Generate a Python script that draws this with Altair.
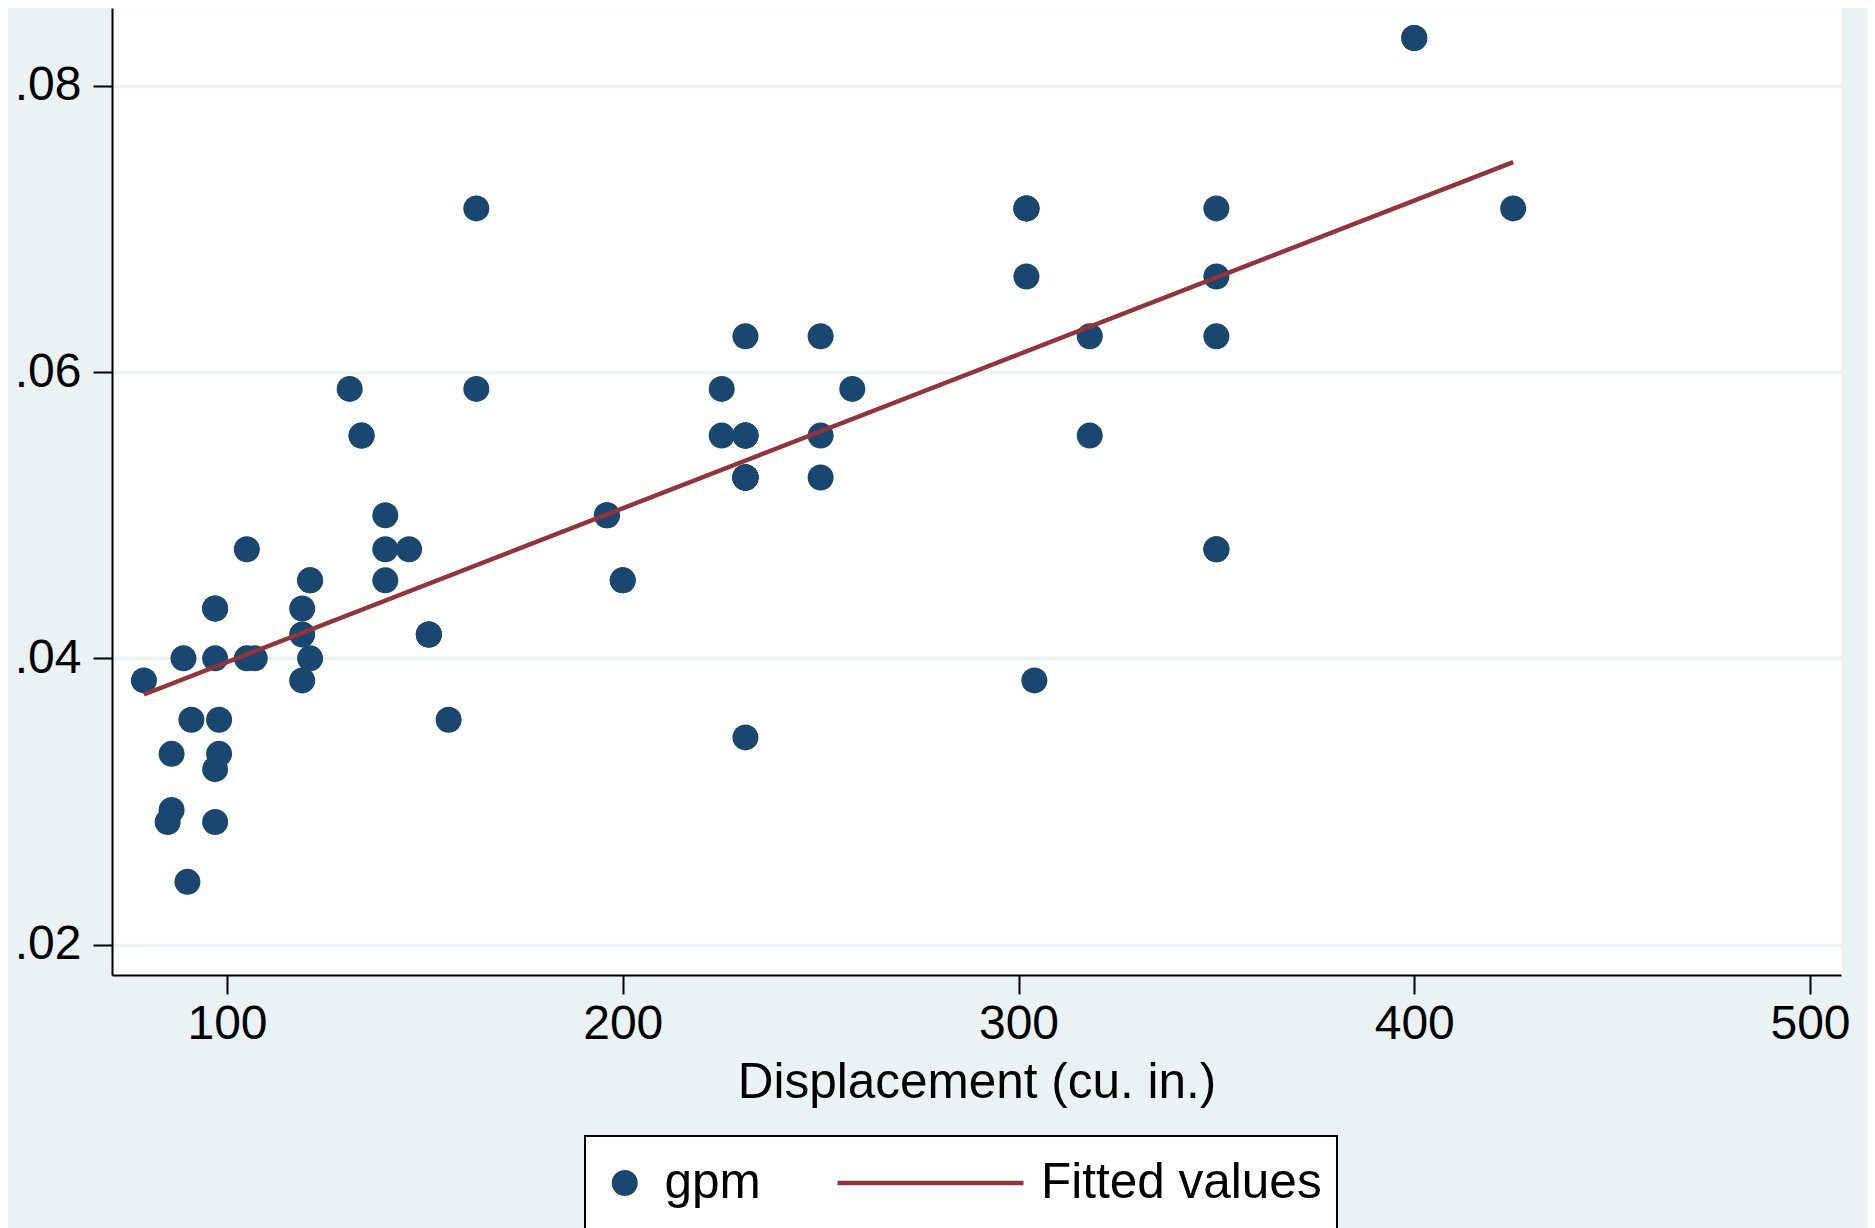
import altair as alt
import pandas as pd

# Stata auto data: displacement (cu. in.) and gallons per mile (1/mpg)
displacement = [121, 258, 121, 196, 350, 231, 304, 196, 231, 231,
                425, 350, 350, 231, 250, 200, 200, 151, 250, 98,
                318, 318, 225, 98, 140, 400, 400, 302, 140, 302,
                302, 250, 302, 140, 350, 231, 231, 231, 231, 151,
                350, 156, 86, 105, 119, 225, 231, 231, 231, 231,
                231, 151, 131, 97, 121, 119, 85, 119, 146, 105,
                107, 91, 86, 163, 79, 97, 134, 97, 134, 97,
                90, 89, 97, 163]
gpm = [0.04545, 0.05882, 0.04545, 0.05, 0.06667, 0.05556, 0.03846, 0.05, 0.0625, 0.05263,
       0.07143, 0.07143, 0.04762, 0.03448, 0.0625, 0.04545, 0.04545, 0.04167, 0.05263, 0.03333,
       0.05556, 0.0625, 0.05882, 0.03571, 0.04762, 0.08333, 0.08333, 0.07143, 0.04545, 0.07143,
       0.06667, 0.05556, 0.07143, 0.05, 0.04762, 0.05263, 0.05263, 0.05556, 0.05263, 0.04167,
       0.0625, 0.03571, 0.02941, 0.04, 0.03846, 0.05556, 0.05556, 0.05556, 0.05263, 0.05263,
       0.05263, 0.04167, 0.05882, 0.04348, 0.04, 0.04348, 0.02857, 0.04167, 0.04762, 0.04762,
       0.04, 0.03571, 0.03333, 0.07143, 0.03846, 0.02857, 0.05556, 0.03226, 0.05556, 0.04348,
       0.02439, 0.04, 0.04, 0.05882]

series_domain = ["gpm", "Fitted values"]
x_ticks = [100, 200, 300, 400, 500]
y_ticks = [0.02, 0.04, 0.06, 0.08]

NAVY = "#1A476F"
MAROON = "#90353B"
BG = "#EAF2F3"
FONT = "Liberation Sans"

df = pd.DataFrame({"displacement": displacement, "gpm": gpm, "series": "gpm"})

axis_common = dict(domainColor="black", domainWidth=2, tickColor="black", tickWidth=2,
                   tickSize=19, labelFont=FONT, labelFontSize=48, labelColor="black",
                   titleFont=FONT, titleFontSize=49.5, titleColor="black",
                   titleFontWeight="normal", labelFlush=False)

x_enc = alt.X("displacement:Q",
              scale=alt.Scale(domain=[70.94, 507.83], nice=False, zero=False),
              axis=alt.Axis(values=x_ticks, format="d", grid=False, labelPadding=6,
                            titlePadding=10, title="Displacement (cu. in.)", **axis_common))
y_enc = alt.Y("gpm:Q",
              scale=alt.Scale(domain=[0.017884, 0.085427], nice=False, zero=False),
              axis=alt.Axis(values=y_ticks, labelExpr="substring(format(datum.value, '.2f'), 1)",
                            grid=True, gridColor=BG, gridWidth=3.5, labelPadding=12,
                            title=None, **axis_common))

legend = alt.Legend(
    title=None, orient="none", legendX=473, legendY=1128, direction="horizontal",
    padding=15, strokeColor="black", fillColor="white",
    labelFont=FONT, labelFontSize=49.5, labelColor="black", labelOffset=15, labelLimit=0,
    columnPadding=74, clipHeight=64, symbolStrokeWidth=4.5, symbolOpacity=1,
)

domain_scale = dict(domain=series_domain)

points = alt.Chart(df).mark_point(filled=True, opacity=1, strokeWidth=0).encode(
    x=x_enc, y=y_enc,
    color=alt.Color("series:N", scale=alt.Scale(range=[NAVY, MAROON], **domain_scale), legend=legend),
    size=alt.Size("series:N", scale=alt.Scale(type="point", padding=0, range=[676, 34596],
                                              **domain_scale), legend=legend),
    shape=alt.Shape("series:N", scale=alt.Scale(range=["circle", "stroke"], **domain_scale),
                    legend=legend),
)

line = alt.Chart(df).transform_regression(
    "displacement", "gpm"
).transform_calculate(series="'Fitted values'").mark_line(strokeWidth=4.5).encode(
    x=x_enc, y=y_enc,
    stroke=alt.Stroke("series:N", scale=alt.Scale(range=["transparent", MAROON], **domain_scale),
                      legend=legend),
)

chart = alt.layer(points, line).properties(
    width=1729, height=967, background=BG,
    padding={"left": 104, "top": 0, "right": 26, "bottom": 253},
    autosize=alt.AutoSizeParams(type="none"),
).configure_view(fill="white", stroke="transparent").configure_legend(strokeWidth=2)

chart.save("out.html", embed_options={"renderer": "svg", "actions": False})
